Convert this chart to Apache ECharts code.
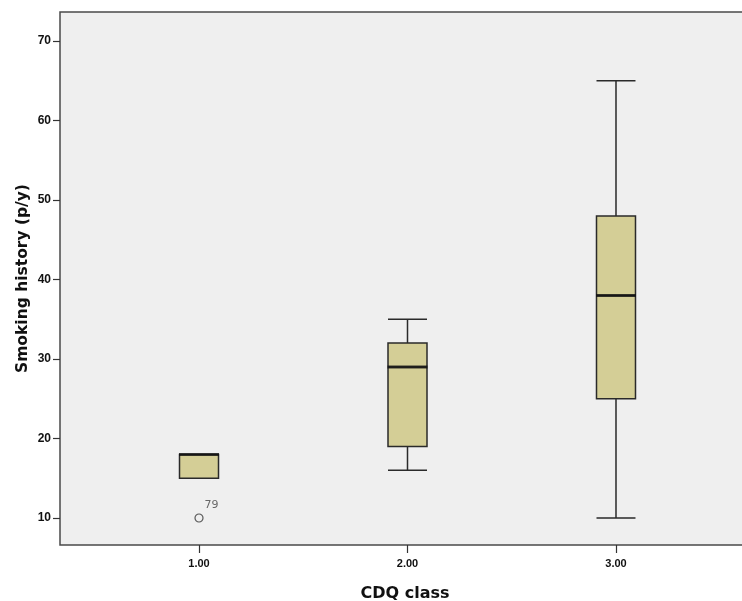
<!DOCTYPE html>
<html>
<head>
<meta charset="utf-8">
<script src="https://cdn.jsdelivr.net/npm/echarts@6/dist/echarts.min.js"></script>
<style>
html,body{margin:0;padding:0;background:#fff;overflow:hidden;}
#chart{width:742px;height:601px;}
</style>
</head>
<body>
<div id="chart"></div>
<script>
// Data
const categories = [1, 2, 3];
const mins    = [15, 16, 10];
const q1s     = [15, 19, 25];
const medians = [18, 29, 38];
const q3s     = [18, 32, 48];
const maxs    = [18, 35, 65];
const outliers = [[1, 10, '79']];
const yTicks = [10, 20, 30, 40, 50, 60, 70];

const boxData = categories.map((c, i) => [c, mins[i], q1s[i], medians[i], q3s[i], maxs[i]]);
const medianData = categories.map((c, i) => [c, medians[i]]);

const chart = echarts.init(document.getElementById('chart'), null, {renderer: 'canvas'});
chart.setOption({
  animation: false,
  backgroundColor: '#ffffff',
  grid: {
    left: 60, width: 690, top: 12, bottom: 56,
    outerBoundsMode: 'none',
    containLabel: false,
    show: true, backgroundColor: '#efefef', borderColor: '#4a4a4a', borderWidth: 1.5
  },
  xAxis: {
    type: 'value',
    min: 0.3333, max: 3.6427,
    name: 'CDQ class',
    nameLocation: 'middle',
    nameGap: 41,
    nameTextStyle: {fontFamily: 'DejaVu Sans', fontWeight: 'bold', fontSize: 16, color: '#111'},
    axisLine: {show: false},
    splitLine: {show: false},
    axisTick: {show: true, length: 8, customValues: categories, lineStyle: {color: '#333', width: 1.2}},
    axisLabel: {
      customValues: categories, margin: 13,
      formatter: v => Number(v).toFixed(2),
      fontFamily: 'Liberation Sans', fontWeight: 'bold', fontSize: 11, color: '#111'
    }
  },
  yAxis: {
    type: 'value',
    min: 6.604, max: 73.65,
    name: 'Smoking history (p/y)',
    nameLocation: 'middle',
    nameGap: 29,
    nameMoveOverlap: false,
    nameTextStyle: {fontFamily: 'DejaVu Sans', fontWeight: 'bold', fontSize: 15.5, color: '#111'},
    axisLine: {show: false},
    splitLine: {show: false},
    axisTick: {show: true, length: 7, customValues: yTicks, lineStyle: {color: '#333', width: 1.2}},
    axisLabel: {
      customValues: yTicks, margin: 9,
      fontFamily: 'Liberation Sans', fontWeight: 'bold', fontSize: 12, color: '#111'
    }
  },
  series: [
    {
      type: 'boxplot',
      data: boxData,
      boxWidth: [39, 39],
      itemStyle: {color: '#d4ce96', borderColor: '#2a2a2a', borderWidth: 1.5},
      z: 2
    },
    {
      type: 'scatter',
      data: medianData,
      symbol: 'rect',
      symbolSize: [40, 3],
      itemStyle: {color: '#111'},
      z: 3
    },
    {
      type: 'scatter',
      data: outliers,
      symbol: 'circle',
      symbolSize: 8,
      itemStyle: {color: '#efefef', borderColor: '#333', borderWidth: 1.2},
      label: {
        show: true, position: [10, -14],
        formatter: p => p.data[2],
        fontFamily: 'DejaVu Sans', fontSize: 11, color: '#444'
      },
      z: 3
    }
  ]
});
</script>
</body>
</html>
